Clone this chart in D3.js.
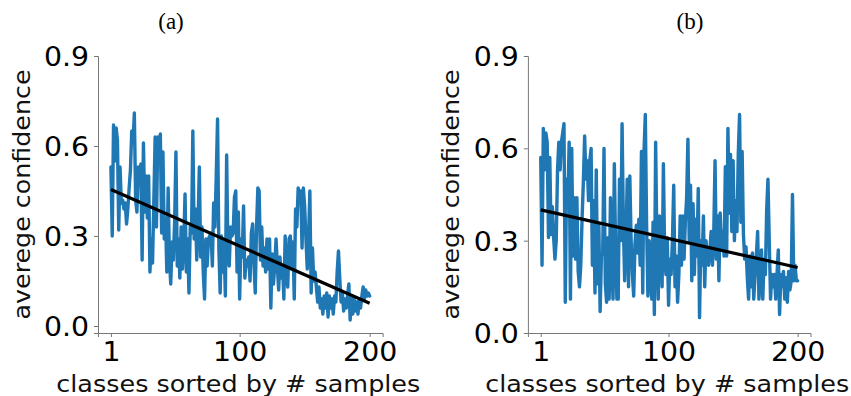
<!DOCTYPE html>
<html>
<head>
<meta charset="utf-8">
<script src="https://cdn.jsdelivr.net/npm/d3@7"></script>
<style>
  body { margin: 0; background: #fff; }
  svg { display: block; }
  .tick text { font-family: "DejaVu Sans", sans-serif; font-size: 26.5px; fill: #000; }
  .axis-title { font-family: "DejaVu Sans", sans-serif; font-size: 23px; fill: #111; }
  .panel-label { font-family: "Liberation Serif", "Times New Roman", serif; font-size: 23px; fill: #000; }
</style>
</head>
<body>
<div id="chart"></div>
<script>
const confidenceA = [
  0.53, 0.30, 0.67, 0.55, 0.66, 0.62, 0.32, 0.53, 0.41, 0.42,
  0.39, 0.41, 0.34, 0.39, 0.46, 0.52, 0.65, 0.61, 0.71, 0.42,
  0.38, 0.53, 0.48, 0.54, 0.22, 0.61, 0.38, 0.50, 0.36, 0.50,
  0.18, 0.29, 0.21, 0.42, 0.63, 0.33, 0.63, 0.58, 0.64, 0.31,
  0.58, 0.29, 0.36, 0.18, 0.46, 0.22, 0.14, 0.28, 0.22, 0.35,
  0.58, 0.20, 0.29, 0.16, 0.33, 0.19, 0.28, 0.44, 0.18, 0.29,
  0.11, 0.33, 0.31, 0.65, 0.29, 0.39, 0.22, 0.34, 0.53, 0.23,
  0.33, 0.18, 0.09, 0.29, 0.20, 0.29, 0.30, 0.31, 0.20, 0.41,
  0.33, 0.50, 0.69, 0.26, 0.11, 0.30, 0.18, 0.28, 0.10, 0.57,
  0.23, 0.20, 0.33, 0.30, 0.31, 0.43, 0.45, 0.18, 0.38, 0.09,
  0.29, 0.23, 0.40, 0.16, 0.22, 0.20, 0.23, 0.15, 0.31, 0.34,
  0.21, 0.11, 0.33, 0.46, 0.45, 0.22, 0.33, 0.20, 0.26, 0.18,
  0.29, 0.19, 0.29, 0.06, 0.24, 0.14, 0.20, 0.29, 0.20, 0.12,
  0.23, 0.16, 0.20, 0.09, 0.30, 0.18, 0.13, 0.29, 0.30, 0.19,
  0.28, 0.09, 0.39, 0.33, 0.46, 0.42, 0.45, 0.26, 0.46, 0.40,
  0.29, 0.19, 0.29, 0.45, 0.11, 0.26, 0.15, 0.18, 0.13, 0.08,
  0.13, 0.06, 0.09, 0.04, 0.10, 0.06, 0.11, 0.03, 0.10, 0.06,
  0.09, 0.04, 0.10, 0.08, 0.18, 0.25, 0.16, 0.08, 0.11, 0.05,
  0.09, 0.06, 0.10, 0.14, 0.02, 0.10, 0.04, 0.09, 0.05, 0.08,
  0.04, 0.09, 0.06, 0.10, 0.13, 0.09, 0.12, 0.10, 0.11, 0.10
];
const confidenceB = [
  0.57, 0.22, 0.665, 0.53, 0.65, 0.62, 0.31, 0.57, 0.32, 0.41,
  0.31, 0.24, 0.30, 0.53, 0.62, 0.53, 0.62, 0.65, 0.68, 0.10,
  0.50, 0.43, 0.62, 0.11, 0.60, 0.25, 0.44, 0.24, 0.44, 0.20,
  0.15, 0.22, 0.37, 0.49, 0.64, 0.50, 0.56, 0.43, 0.56, 0.60,
  0.22, 0.43, 0.13, 0.53, 0.16, 0.35, 0.07, 0.25, 0.26, 0.60,
  0.16, 0.10, 0.31, 0.11, 0.44, 0.23, 0.11, 0.55, 0.27, 0.11,
  0.11, 0.50, 0.30, 0.68, 0.35, 0.17, 0.30, 0.50, 0.15, 0.51,
  0.30, 0.19, 0.12, 0.29, 0.35, 0.26, 0.37, 0.22, 0.59, 0.13,
  0.59, 0.71, 0.35, 0.12, 0.30, 0.19, 0.11, 0.36, 0.06, 0.62,
  0.28, 0.11, 0.38, 0.30, 0.15, 0.55, 0.25, 0.19, 0.31, 0.09,
  0.24, 0.19, 0.30, 0.48, 0.15, 0.25, 0.10, 0.19, 0.38, 0.22,
  0.38, 0.24, 0.36, 0.44, 0.63, 0.30, 0.48, 0.17, 0.42, 0.19,
  0.37, 0.25, 0.47, 0.05, 0.30, 0.22, 0.38, 0.15, 0.30, 0.25,
  0.22, 0.27, 0.33, 0.22, 0.32, 0.56, 0.24, 0.38, 0.17, 0.39,
  0.27, 0.33, 0.25, 0.54, 0.25, 0.665, 0.39, 0.58, 0.33, 0.56,
  0.30, 0.43, 0.33, 0.58, 0.71, 0.36, 0.59, 0.32, 0.24, 0.28,
  0.18, 0.11, 0.25, 0.15, 0.26, 0.11, 0.19, 0.25, 0.33, 0.11,
  0.17, 0.27, 0.11, 0.24, 0.19, 0.40, 0.50, 0.30, 0.11, 0.19,
  0.15, 0.19, 0.11, 0.19, 0.27, 0.06, 0.19, 0.15, 0.20, 0.11,
  0.18, 0.10, 0.20, 0.14, 0.17, 0.45, 0.17, 0.22, 0.17, 0.17
];
// fitted trend, value at rank 1 and at rank 200
const trendA = [0.455, 0.076];
const trendB = [0.40, 0.213];
const trendRanks = [1, 200];

const xTickValues = [1, 100, 200];
const yTickValues = [0, 0.3, 0.6, 0.9];

const width = 851;
const height = 396;

const svg = d3.select('#chart').append('svg')
  .attr('width', width)
  .attr('height', height)
  .attr('viewBox', [0, 0, width, height]);

// the picture is a bit wider than tall, so glyphs are stretched sideways
const stretch = 1.07;

function widenText(sel, factor) {
  sel.each(function () {
    const w = this.getComputedTextLength();
    d3.select(this).attr('textLength', w * factor).attr('lengthAdjust', 'spacingAndGlyphs');
  });
}

const panels = [
  { values: confidenceA, trend: trendA, label: '(a)', labelX: 171,
    xRange: [98, 382.6], yDomain: [-0.0233, 0.9], yLabelX: 30 },
  { values: confidenceB, trend: trendB, label: '(b)', labelX: 690,
    xRange: [527.9, 810.5], yDomain: [0, 0.9], yLabelX: 459 }
];

panels.forEach(p => {
  const x = d3.scaleLinear().domain([-8.95, 209.95]).range(p.xRange);
  const y = d3.scaleLinear().domain(p.yDomain).range([333, 56]);
  const g = svg.append('g');

  const line = d3.line()
    .x((d, i) => x(i + 1))
    .y(d => y(d));

  g.append('path')
    .datum(p.values)
    .attr('fill', 'none')
    .attr('stroke', '#1f77b4')
    .attr('stroke-width', 3.4)
    .attr('stroke-linejoin', 'round')
    .attr('stroke-linecap', 'round')
    .attr('d', line);

  g.append('line')
    .attr('x1', x(trendRanks[0])).attr('y1', y(p.trend[0]))
    .attr('x2', x(trendRanks[1])).attr('y2', y(p.trend[1]))
    .attr('stroke', '#000')
    .attr('stroke-width', 3.2);

  const xAxis = g.append('g')
    .attr('transform', `translate(0,${y.range()[0]})`)
    .call(d3.axisBottom(x).tickValues(xTickValues).tickSizeOuter(0).tickSize(4).tickPadding(4));
  const yAxis = g.append('g')
    .attr('transform', `translate(${p.xRange[0]},0)`)
    .call(d3.axisLeft(y).tickValues(yTickValues).tickFormat(d3.format('.1f')).tickSizeOuter(0).tickSize(4).tickPadding(5));

  [xAxis, yAxis].forEach(ax => {
    ax.attr('font-family', null).attr('font-size', null);
    ax.select('.domain').attr('stroke', '#777').attr('stroke-width', 1);
    ax.selectAll('.tick line').attr('stroke', '#777');
    widenText(ax.selectAll('.tick text'), stretch);
  });
  xAxis.selectAll('.tick text').attr('dy', '0.74em');
  yAxis.selectAll('.tick text').attr('dy', '0.36em');

  const xMid = (p.xRange[0] + p.xRange[1]) / 2;
  g.append('text')
    .attr('class', 'axis-title')
    .attr('x', xMid - 2)
    .attr('y', 391.5)
    .attr('text-anchor', 'middle')
    .attr('textLength', 364)
    .attr('lengthAdjust', 'spacingAndGlyphs')
    .text('classes sorted by # samples');

  g.append('text')
    .attr('class', 'axis-title')
    .attr('transform', `translate(${p.yLabelX},194.5) rotate(-90)`)
    .attr('text-anchor', 'middle')
    .attr('textLength', 250)
    .attr('lengthAdjust', 'spacingAndGlyphs')
    .text('averege confidence');

  g.append('text')
    .attr('class', 'panel-label')
    .attr('x', p.labelX)
    .attr('y', 29)
    .attr('text-anchor', 'middle')
    .text(p.label);
});
</script>
</body>
</html>
